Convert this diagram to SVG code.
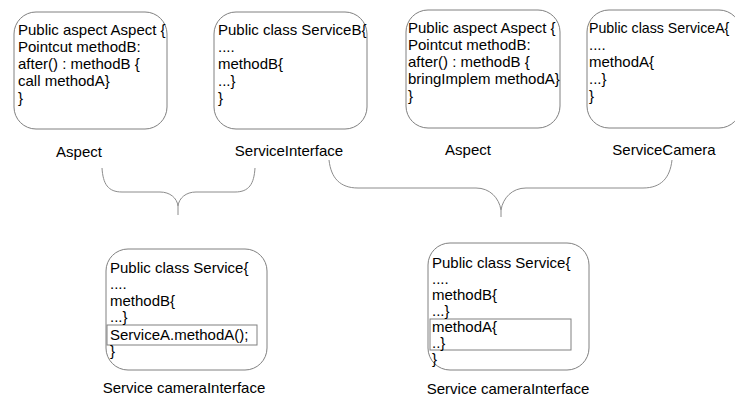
<svg xmlns="http://www.w3.org/2000/svg" width="735" height="398" viewBox="0 0 735 398">
<style>
.box{fill:#fff;stroke:#808080;stroke-width:1}
.inner{fill:none;stroke:#808080;stroke-width:1}
.brace{fill:none;stroke:#8c8c8c;stroke-width:1}
text{font-family:"Liberation Sans",Arial,sans-serif;font-size:15px;fill:#000}
.lbl{text-anchor:middle}
</style>
<rect width="735" height="398" fill="#fff"/>
<g id="connectors">
<path class="brace" d="M102,168 C103,184 108,192 122,192 L160,192 C170,192 177,198 178,206 L178,215 M255,168 C254,184 249,192 235,192 L196,192 C186,192 179,198 178,206"/>
<path class="brace" d="M329,160 C331,178 340,188 358,188 L476,188 C490,188 499,198 501,210 L501,217 M672,160 C670,178 661,188 643,188 L526,188 C512,188 503,198 501,210"/>
</g>
<g id="aspect1">
<rect class="box" x="14" y="12" width="153" height="117" rx="22"/>
<text x="18" y="35">Public aspect Aspect {</text>
<text x="18" y="52">Pointcut methodB:</text>
<text x="18" y="69">after() : methodB {</text>
<text x="18" y="86">call methodA}</text>
<text x="18" y="103">}</text>
<text class="lbl" x="79" y="157">Aspect</text>
</g>
<g id="serviceInterface">
<rect class="box" x="214" y="12" width="153" height="117" rx="22"/>
<text x="218" y="35">Public class ServiceB{</text>
<text x="218" y="52">....</text>
<text x="218" y="69">methodB{</text>
<text x="218" y="86">...}</text>
<text x="218" y="103">}</text>
<text class="lbl" x="289" y="156">ServiceInterface</text>
</g>
<g id="aspect2">
<rect class="box" x="406" y="10" width="154" height="118" rx="22"/>
<text x="408" y="33">Public aspect Aspect {</text>
<text x="408" y="50">Pointcut methodB:</text>
<text x="408" y="67">after() : methodB {</text>
<text x="408" y="84">bringImplem methodA}</text>
<text x="408" y="101">}</text>
<text class="lbl" x="468" y="155">Aspect</text>
</g>
<g id="serviceCamera">
<rect class="box" x="587" y="10" width="154" height="118" rx="22"/>
<text x="589" y="33" style="font-size:14.2px">Public class ServiceA{</text>
<text x="589" y="50">....</text>
<text x="589" y="67">methodA{</text>
<text x="589" y="84">...}</text>
<text x="589" y="101">}</text>
<text class="lbl" x="664" y="155">ServiceCamera</text>
</g>
<g id="serviceCameraInterface1">
<rect class="box" x="106" y="249" width="161" height="121" rx="22"/>
<rect class="inner" x="107" y="325" width="150" height="20"/>
<text x="110" y="273">Public class Service{</text>
<text x="110" y="289">....</text>
<text x="110" y="306">methodB{</text>
<text x="110" y="322">...}</text>
<text x="110" y="340">ServiceA.methodA();</text>
<text x="110" y="356">}</text>
<text class="lbl" x="184" y="393">Service cameraInterface</text>
</g>
<g id="serviceCameraInterface2">
<rect class="box" x="428" y="243" width="161" height="127" rx="22"/>
<rect class="inner" x="430" y="319" width="141" height="31"/>
<text x="432" y="268">Public class Service{</text>
<text x="432" y="284">....</text>
<text x="432" y="300">methodB{</text>
<text x="432" y="316">...}</text>
<text x="432" y="332">methodA{</text>
<text x="432" y="348">..}</text>
<text x="432" y="364">}</text>
<text class="lbl" x="508" y="394">Service cameraInterface</text>
</g>
</svg>
